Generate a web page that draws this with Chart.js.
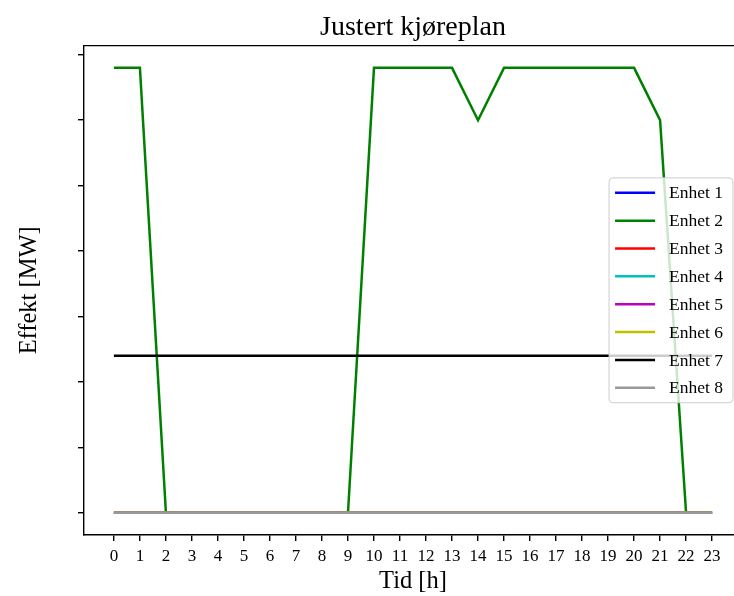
<!DOCTYPE html>
<html>
<head>
<meta charset="utf-8">
<script src="https://cdn.jsdelivr.net/npm/chart.js@4.4.0/dist/chart.umd.min.js"></script>
<style>
	html, body { margin: 0; padding: 0; background: #fff; overflow: hidden; }
	#wrap { width: 760px; height: 596px; }
</style>
</head>
<body>
<div id="wrap"><canvas id="myChart" width="760" height="596"></canvas></div>
<script>
	var hours = [0,1,2,3,4,5,6,7,8,9,10,11,12,13,14,15,16,17,18,19,20,21,22,23];
	var y_ticks = [0,50,100,150,200,250,300,350];
	var units = ['Enhet 1','Enhet 2','Enhet 3','Enhet 4','Enhet 5','Enhet 6','Enhet 7','Enhet 8'];
	var unit_color = ['#0000ff','#008000','#ff0000','#00bfbf','#bf00bf','#bfbf00','#000000','#999999'];

	var enhet1 = [0,0,0,0,0,0,0,0,0,0,0,0,0,0,0,0,0,0,0,0,0,0,0,0];
	var enhet2 = [340,340,0,0,0,0,0,0,0,0,340,340,340,340,300,340,340,340,340,340,340,300,0,0];
	var enhet3 = [0,0,0,0,0,0,0,0,0,0,0,0,0,0,0,0,0,0,0,0,0,0,0,0];
	var enhet4 = [0,0,0,0,0,0,0,0,0,0,0,0,0,0,0,0,0,0,0,0,0,0,0,0];
	var enhet5 = [0,0,0,0,0,0,0,0,0,0,0,0,0,0,0,0,0,0,0,0,0,0,0,0];
	var enhet6 = [0,0,0,0,0,0,0,0,0,0,0,0,0,0,0,0,0,0,0,0,0,0,0,0];
	var enhet7 = [120,120,120,120,120,120,120,120,120,120,120,120,120,120,120,120,120,120,120,120,120,120,120,120];
	var enhet8 = [0,0,0,0,0,0,0,0,0,0,0,0,0,0,0,0,0,0,0,0,0,0,0,0];
	var series = [enhet1, enhet2, enhet3, enhet4, enhet5, enhet6, enhet7, enhet8];

	var serif = '"Liberation Serif", "Times New Roman", serif';

	// top and right spines (matplotlib style frame)
	var framePlugin = {
		id: 'frame',
		afterDraw: function(chart) {
			var ctx = chart.ctx, a = chart.chartArea;
			ctx.save();
			ctx.strokeStyle = '#000';
			ctx.lineWidth = 1.4;
			ctx.beginPath();
			ctx.moveTo(a.left, a.top);
			ctx.lineTo(a.right, a.top);
			ctx.lineTo(a.right, a.bottom);
			ctx.stroke();
			ctx.restore();
		}
	};

	// legend drawn inside the plot, centre right
	var boxLegend = {
		id: 'boxLegend',
		afterDraw: function(chart) {
			var ctx = chart.ctx, a = chart.chartArea;
			var ds = chart.data.datasets;
			ctx.save();
			ctx.font = '17.5px ' + serif;
			var maxW = 0;
			ds.forEach(function(d){ maxW = Math.max(maxW, ctx.measureText(d.label).width); });
			var rowH = 27.86;
			var w = 6 + 40 + 14 + maxW + 10;
			var h = ds.length * rowH + 2;
			var x = a.right - 9 - w;
			var y = (a.top + a.bottom) / 2 - h / 2;
			ctx.beginPath();
			ctx.roundRect(x, y, w, h, 4);
			ctx.fillStyle = 'rgba(255,255,255,0.8)';
			ctx.fill();
			ctx.strokeStyle = '#cccccc';
			ctx.lineWidth = 1;
			ctx.stroke();
			ds.forEach(function(d, i){
				var cy = y + 1 + rowH / 2 + i * rowH;
				ctx.beginPath();
				ctx.strokeStyle = d.borderColor;
				ctx.lineWidth = 2.5;
				ctx.moveTo(x + 6, cy);
				ctx.lineTo(x + 46, cy);
				ctx.stroke();
				ctx.fillStyle = '#000';
				ctx.textBaseline = 'middle';
				ctx.fillText(d.label, x + 60, cy + 1);
			});
			ctx.restore();
		}
	};

	var datasets = units.map(function(name, i){
		return {
			label: name,
			data: hours.map(function(h, k){ return {x: h, y: series[i][k]}; }),
			borderColor: unit_color[i],
			backgroundColor: unit_color[i],
			borderWidth: 2.5,
			pointRadius: 0,
			tension: 0,
			fill: false,
			order: units.length - i
		};
	});

	var ctxLine = document.getElementById('myChart').getContext('2d');
	var myLine = new Chart(ctxLine, {
		type: 'line',
		data: { datasets: datasets },
		options: {
			responsive: false,
			animation: false,
			events: [],
			layout: { padding: { left: 0, right: 18, top: 0, bottom: 0 } },
			plugins: {
				legend: { display: false },
				tooltip: { enabled: false },
				title: {
					display: true,
					text: 'Justert kjøreplan',
					fullSize: false,
					color: '#000',
					font: { family: serif, size: 28, weight: 'normal' },
					padding: { top: 11, bottom: 1 }
				}
			},
			scales: {
				x: {
					type: 'linear',
					min: -1.15,
					max: 24.15,
					afterBuildTicks: function(axis){ axis.ticks = hours.map(function(h){ return {value: h}; }); },
					afterFit: function(axis){ axis.height = 61; },
					ticks: {
						autoSkip: false,
						maxRotation: 0,
						color: '#000',
						padding: 5,
						font: { family: serif, size: 17 }
					},
					grid: { drawOnChartArea: false, drawTicks: true, tickLength: 6, color: '#000', lineWidth: 1.4 },
					border: { color: '#000', width: 1.4 },
					title: {
						display: true,
						text: 'Tid [h]',
						color: '#000',
						font: { family: serif, size: 24.5 },
						padding: { top: 0, bottom: 0 }
					}
				},
				y: {
					type: 'linear',
					min: -17,
					max: 357,
					afterBuildTicks: function(axis){ axis.ticks = y_ticks.map(function(v){ return {value: v}; }); },
					afterFit: function(axis){ axis.width = 84; },
					ticks: {
						autoSkip: false,
						callback: function(){ return ''; }
					},
					grid: { drawOnChartArea: false, drawTicks: true, tickLength: 6, color: '#000', lineWidth: 1.4 },
					border: { color: '#000', width: 1.4 },
					title: {
						display: true,
						text: 'Effekt [MW]',
						color: '#000',
						font: { family: serif, size: 24.5 },
						padding: { top: 15, bottom: 0 }
					}
				}
			}
		},
		plugins: [framePlugin, boxLegend]
	});
</script>
</body>
</html>
